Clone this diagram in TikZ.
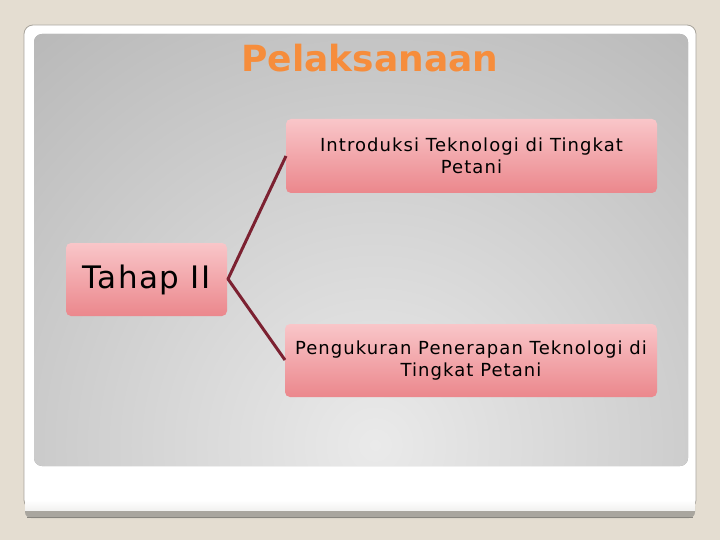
\documentclass[tikz,border=0pt]{standalone}
\usepackage{fontspec}
\setmainfont{DejaVu Sans}
\definecolor{bgbeige}{HTML}{E4DDD1}
\definecolor{cardedge}{HTML}{A8A49C}
\definecolor{cardband}{HTML}{A9A69F}
\definecolor{panelin}{HTML}{EAEAEA}
\definecolor{panelout}{HTML}{A3A3A3}
\definecolor{boxtop}{HTML}{F9C6C9}
\definecolor{boxbot}{HTML}{EB878C}
\definecolor{linkred}{HTML}{7C2131}
\definecolor{titleorange}{HTML}{F68D3C}
\tikzset{
  pinkbox/.style={rounded corners=5pt, top color=boxtop, bottom color=boxbot, draw=none},
  boxtext/.style={font=\fontsize{18}{22.5}\selectfont\addfontfeature{LetterSpace=6}, align=center, text=black},
  link/.style={draw=linkred, line width=3pt, line join=round}
}
\begin{document}
\begin{tikzpicture}[x=1pt,y=-1pt]
\useasboundingbox (0,0) rectangle (720,540);
\fill[bgbeige] (0,0) rectangle (720,540);
% card
\fill[cardband, rounded corners=6pt] (25,500) rectangle (695,518);
\draw[cardedge, fill=white, rounded corners=9pt, line width=0.8pt] (24,25) -- (696,25) -- (696,509) -- (24,509) -- cycle;
\fill[white] (25,495) rectangle (695,509.5);
\shade[top color=white, bottom color=white!85!cardband] (25,500) rectangle (695,510);
\fill[cardband!80!black] (27,516.5) rectangle (693,518);
% panel
\path[rounded corners=8pt, fill=panelout,
  path picture={\shade[inner color=panelin, outer color=panelout] (375,445) circle (770);}]
  (34,34) rectangle (688,466);
% title
\node[text=titleorange, font=\bfseries\fontsize{36}{40}\selectfont, anchor=base] (title) at (370,72) {Pelaksanaan};
% boxes
\path[pinkbox] (286,119) rectangle (657,193);
\node[boxtext] (top) at (471.5,156) {Introduksi Teknologi di Tingkat\\Petani};
\coordinate (topL) at (286,156);
\path[pinkbox] (285,324) rectangle (657,397);
\node[boxtext] (bot) at (471,360.5) {Pengukuran Penerapan Teknologi di\\Tingkat Petani};
\coordinate (botL) at (285,360);
\path[pinkbox] (66,243) rectangle (227,316);
\node[text=black, font=\fontsize{31}{34}\selectfont\addfontfeature{LetterSpace=5}] (tahap) at (146.5,279.5) {Tahap II};
\coordinate (tahapR) at (228,279);
% connectors
\draw[link] (topL) -- (tahapR) -- (botL);
\end{tikzpicture}
\end{document}
